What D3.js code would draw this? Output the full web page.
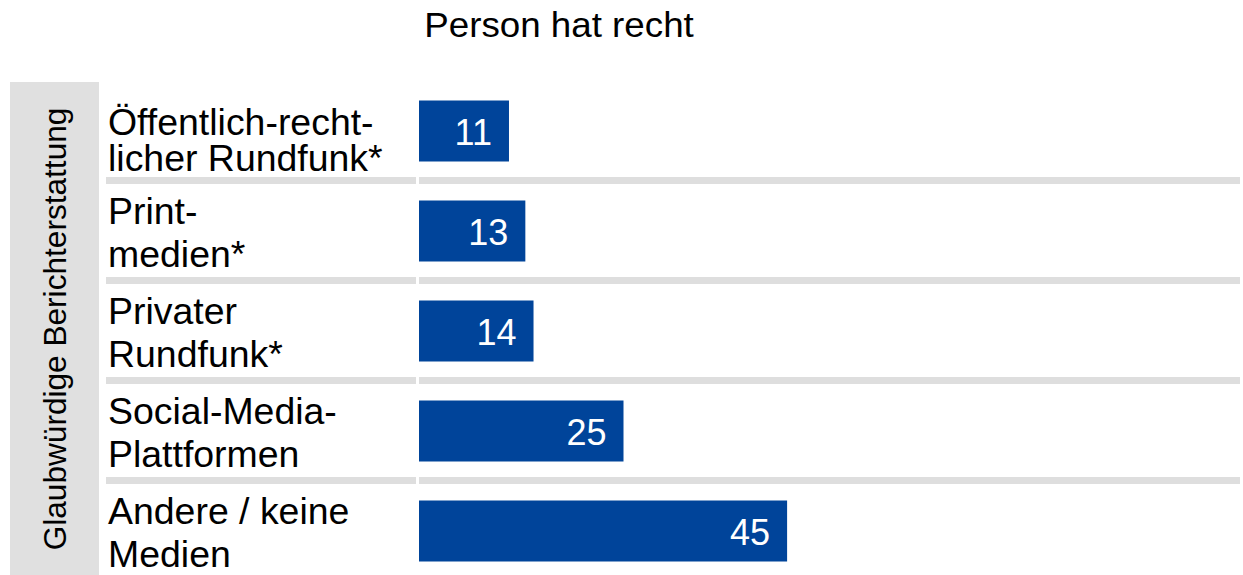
<!DOCTYPE html>
<html>
<head>
<meta charset="utf-8">
<script src="https://cdn.jsdelivr.net/npm/d3@7"></script>
<style>
  body { margin: 0; background: #fff; }
  svg text { font-family: "Liberation Sans", Arial, sans-serif; }
</style>
</head>
<body>
<div id="chart"></div>
<script>
// chart values
const title = "Person hat recht";
const groupLabel = "Glaubwürdige Berichterstattung";
const categories = ["oer", "print", "privat", "social", "andere"];
const labelLines = [
  ["Öffentlich-recht-", "licher Rundfunk*"],
  ["Print-", "medien*"],
  ["Privater", "Rundfunk*"],
  ["Social-Media-", "Plattformen"],
  ["Andere / keine", "Medien"]
];
const values = [11, 13, 14, 25, 45];

let totalWidth = 1243, totalHeight = 575;
const barColor = "#00449a", gridColor = "#dedede";

const svg = d3.select("#chart")
  .append("svg")
  .attr("width", totalWidth)
  .attr("height", totalHeight);

const y = d3.scaleBand()
  .domain(categories)
  .range([81, 581])
  .paddingInner(0.39)
  .paddingOuter(0.195);

const x = d3.scaleLinear()
  .domain([0, 100])
  .range([419, 1237]);

// title (source font runs a little wider than Liberation Sans)
svg.append("text")
  .attr("transform", "translate(559, 37) scale(1.05, 1)")
  .attr("text-anchor", "middle")
  .attr("font-size", "35px")
  .attr("fill", "#000")
  .text(title);

// grey side box with rotated group label
svg.append("rect")
  .attr("x", 10)
  .attr("y", 82)
  .attr("width", 89)
  .attr("height", totalHeight - 82)
  .attr("fill", "#e0e0e0");

svg.append("text")
  .attr("transform", "translate(66, 329) rotate(-90) scale(1.02, 1)")
  .attr("text-anchor", "middle")
  .attr("font-size", "31px")
  .attr("fill", "#000")
  .text(groupLabel);

// separators between rows (two segments, small gap at bar origin)
const step = y.step();
const seps = categories.slice(1);
seps.forEach(c => {
  const sy = y(c) - y.paddingOuter() * step - 0.5;
  svg.append("rect")
    .attr("x", 106).attr("y", sy - 3.5)
    .attr("width", x(0) - 3 - 106).attr("height", 7)
    .attr("fill", gridColor);
  svg.append("rect")
    .attr("x", x(0)).attr("y", sy - 3.5)
    .attr("width", 1240 - x(0)).attr("height", 7)
    .attr("fill", gridColor);
});

// category labels
categories.forEach((c, i) => {
  const rowTop = y(c) - y.paddingOuter() * step;
  const lineStep = i === 0 ? 36 : 43;
  const last = rowTop + (i === 0 ? 90 : 86);
  const t = svg.append("text")
    .attr("transform", "translate(108, 0) scale(1.04, 1)")
    .attr("font-size", "36px")
    .attr("fill", "#000");
  labelLines[i].forEach((line, j) => {
    t.append("tspan")
      .attr("x", 0)
      .attr("y", last - (labelLines[i].length - 1 - j) * lineStep)
      .text(line);
  });
});

// bars
svg.selectAll("rect.bar")
  .data(categories)
  .enter()
  .append("rect")
  .attr("class", "bar")
  .attr("x", x(0))
  .attr("y", d => y(d))
  .attr("width", (d, i) => x(values[i]) - x(0))
  .attr("height", y.bandwidth())
  .attr("fill", barColor);

svg.selectAll("text.val")
  .data(categories)
  .enter()
  .append("text")
  .attr("class", "val")
  .attr("x", (d, i) => x(values[i]) - 17)
  .attr("y", d => y(d) + y.bandwidth() / 2 + 13.5)
  .attr("text-anchor", "end")
  .attr("font-size", "36px")
  .attr("fill", "#fff")
  .text((d, i) => values[i]);
</script>
</body>
</html>
